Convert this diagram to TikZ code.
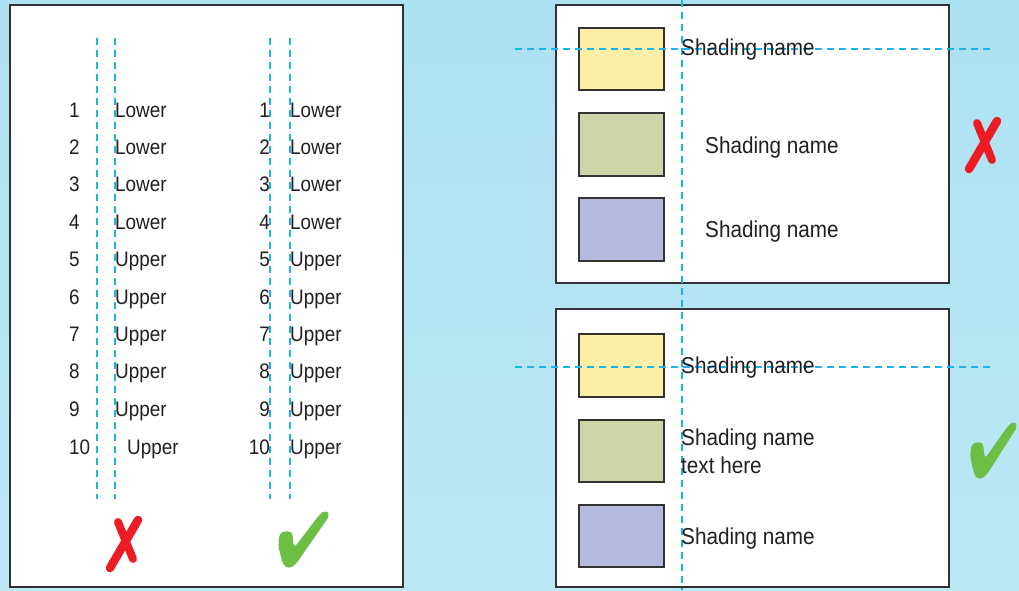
\documentclass[tikz,border=0pt]{standalone}
\usepackage{fontspec}
\newfontfamily\panelfont{Liberation Sans}[FakeStretch=0.9]
\definecolor{bgtop}{RGB}{173,226,243}
\definecolor{bgbot}{RGB}{188,231,245}
\definecolor{panelgray}{RGB}{50,50,50}
\definecolor{inkgray}{RGB}{35,31,32}
\definecolor{guideblue}{RGB}{27,180,233}
\definecolor{markred}{RGB}{237,28,36}
\definecolor{markgreen}{RGB}{108,190,69}
\definecolor{shadeyellow}{RGB}{253,238,165}
\definecolor{shadegreen}{RGB}{204,213,167}
\definecolor{shadepurple}{RGB}{182,185,222}
\begin{document}
\begin{tikzpicture}[
  x=1pt, y=-1pt,
  panel/.style={draw=panelgray, line width=2pt, fill=white},
  swatch/.style={draw=panelgray, line width=1.3pt},
  guide/.style={draw=guideblue, line width=1.3pt, dash pattern=on 7pt off 5pt},
  rowtext/.style={font=\panelfont\fontsize{21}{25}\selectfont, text=inkgray, inner sep=0pt},
  nametext/.style={font=\panelfont\fontsize{23}{28}\selectfont, text=inkgray,
    inner sep=0pt, anchor=base west, align=left},
  redcross/.pic={
    \draw[markred, line width=8.5pt, line cap=round] (-14,23) -- (14,-25);
    \draw[markred, line width=8pt, line cap=round] (-6,-23) -- (9,14);
  },
  greentick/.pic={
    \fill[markgreen, rounded corners=4pt]
      (-25,5) -- (-23,-8) -- (-11,-9) -- (-9,8) -- (17,-26) -- (23,-30)
      -- (27,-25) -- (-7,24) -- (-14,29) -- (-20,25) -- cycle;
  }
]
% background
\useasboundingbox (0,0) rectangle (1019,590);
\shade[top color=bgtop, bottom color=bgbot] (0,0) rectangle (1019,590);

% left panel: numbered rows
\draw[panel] (10,5) rectangle (403,587);
\foreach \gx in {97,115,270,290}
  \draw[guide] (\gx,38) -- (\gx,499);
\foreach \n in {1,...,9} {
  \pgfmathsetmacro\by{117+37.4*(\n-1)}
  \ifnum\n<5 \def\word{Lower}\else\def\word{Upper}\fi
  \node[rowtext, anchor=base west] (numA\n) at (69,\by) {\n};
  \node[rowtext, anchor=base west] (wordA\n) at (115,\by) {\word};
  \node[rowtext, anchor=base east] (numB\n) at (270,\by) {\n};
  \node[rowtext, anchor=base west] (wordB\n) at (290,\by) {\word};
}
\node[rowtext, anchor=base west] (numA10) at (69,454) {10};
\node[rowtext, anchor=base west] (wordA10) at (127,454) {Upper};
\node[rowtext, anchor=base east] (numB10) at (270,454) {10};
\node[rowtext, anchor=base west] (wordB10) at (290,454) {Upper};
\pic at (124,545) {redcross};
\pic at (303,540) {greentick};

% right panels: shading names
\draw[panel] (556,5) rectangle (949,283);
\draw[panel] (556,309) rectangle (949,587);
\draw[swatch, fill=shadeyellow] (579,28) rectangle (664,90);
\draw[swatch, fill=shadegreen] (579,113) rectangle (664,176);
\draw[swatch, fill=shadepurple] (579,198) rectangle (664,261);
\draw[swatch, fill=shadeyellow] (579,334) rectangle (664,397);
\draw[swatch, fill=shadegreen] (579,420) rectangle (664,482);
\draw[swatch, fill=shadepurple] (579,505) rectangle (664,567);
\draw[guide] (682,0) -- (682,590);
\draw[guide] (515,49) -- (992,49);
\draw[guide] (515,367) -- (992,367);
\node[nametext] (nameA1) at (681,55) {Shading name};
\node[nametext] (nameA2) at (705,153) {Shading name};
\node[nametext] (nameA3) at (705,237) {Shading name};
\node[nametext] (nameB1) at (681,373) {Shading name};
\node[nametext] (nameB2) at (681,473) {Shading name\\text here};
\node[nametext] (nameB3) at (681,544) {Shading name};
\pic at (983,146) {redcross};
\pic[xscale=0.92] at (993,451) {greentick};
\end{tikzpicture}
\end{document}
